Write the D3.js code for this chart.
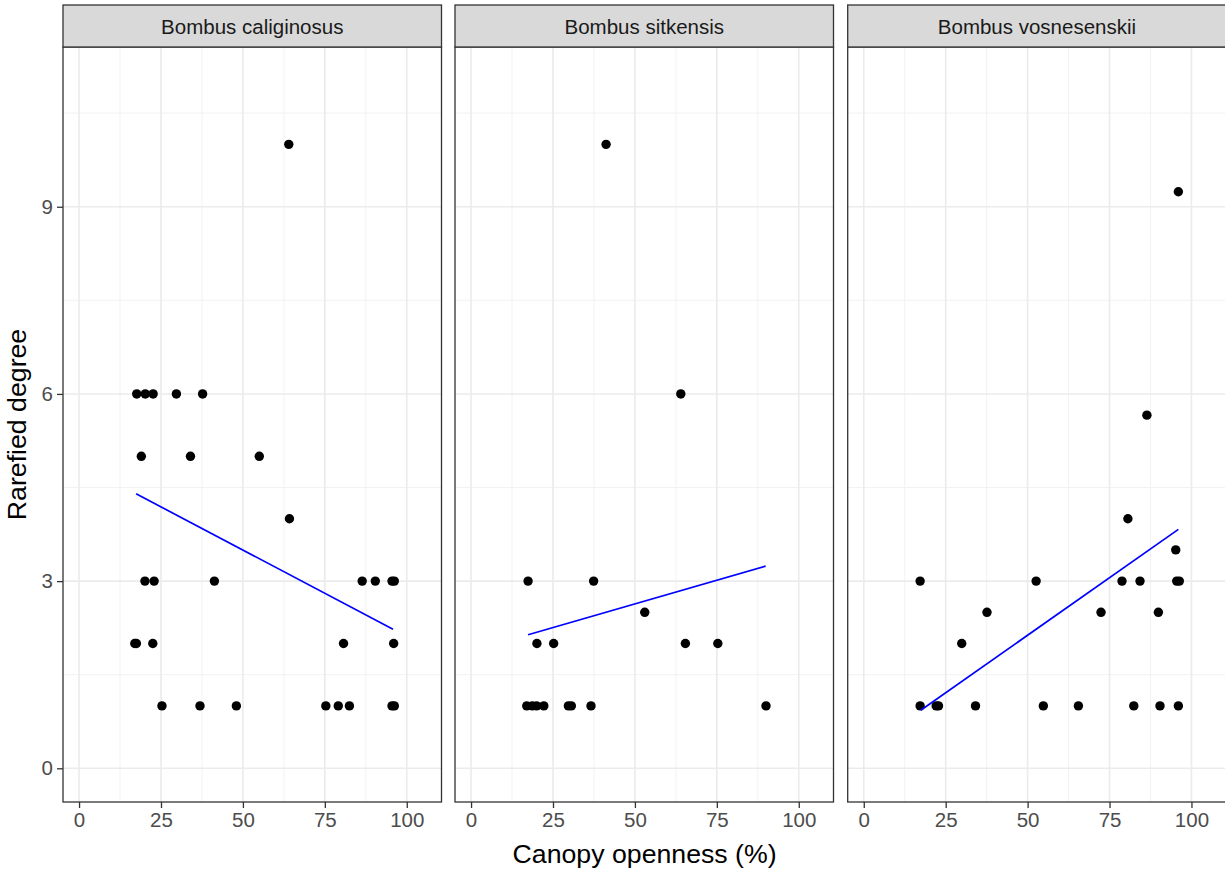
<!DOCTYPE html>
<html>
<head>
<meta charset="utf-8">
<script src="https://cdn.jsdelivr.net/npm/d3@7"></script>
<style>
  body { margin: 0; background: white; }
  text { font-family: "Liberation Sans", Arial, sans-serif; }
</style>
</head>
<body>
<script>
const width = 1225;
const height = 871;

const species = ["Bombus caliginosus", "Bombus sitkensis", "Bombus vosnesenskii"];

// canopy openness (%) and rarefied degree, one pair of arrays per species
const caligX = [64, 17.6, 20.2, 22.6, 29.7, 37.7, 19, 34, 55, 64.2, 20.1, 22.9, 41.3, 86.4, 90.4, 95.5, 96.2,
  17.0, 17.5, 22.5, 80.7, 96, 25.3, 36.9, 48, 75.3, 79.1, 82.5, 95.5, 96.2];
const caligY = [10, 6, 6, 6, 6, 6, 5, 5, 5, 4, 3, 3, 3, 3, 3, 3, 3,
  2, 2, 2, 2, 2, 1, 1, 1, 1, 1, 1, 1, 1];

const sitkX = [41.2, 64.0, 17.4, 37.4, 53.0, 20.1, 25.2, 65.4, 75.3, 17.0, 18.7, 20.0, 22.2, 29.7, 30.6, 36.6, 90.0];
const sitkY = [10, 6, 3, 3, 2.5, 2, 2, 2, 2, 1, 1, 1, 1, 1, 1, 1, 1];

const vosX = [96.0, 86.4, 80.6, 95.2, 17.2, 52.6, 78.8, 84.3, 95.5, 96.3, 37.6, 72.4, 89.9, 29.9,
  17.2, 22.1, 22.8, 34.1, 54.8, 65.5, 82.4, 90.4, 96.0];
const vosY = [9.24, 5.66, 4, 3.5, 3, 3, 3, 3, 3, 3, 2.5, 2.5, 2.5, 2,
  1, 1, 1, 1, 1, 1, 1, 1, 1];

// fitted lines (start and end)
const fitX = [[17.4, 95.8], [17.4, 89.9], [17.4, 96.0]];
const fitY = [[4.40, 2.23], [2.14, 3.24], [0.93, 3.83]];

const xTicks = [0, 25, 50, 75, 100];
const xMinor = [12.5, 37.5, 62.5, 87.5];
const yTicks = [0, 3, 6, 9];
const yMinor = [1.5, 4.5, 7.5, 10.5];

const panelLefts = [63, 455, 847.7];
const panelW = 378.5;
const plotTop = 47;
const plotBottom = 802;
const stripTop = 5;

const allX = [caligX, sitkX, vosX];
const allY = [caligY, sitkY, vosY];

const svg = d3.select("body").append("svg")
  .attr("width", width)
  .attr("height", height);

const y = d3.scaleLinear().domain([-0.54, 11.56]).range([plotBottom, plotTop]);

species.forEach((name, i) => {
  const left = panelLefts[i];
  const x = d3.scaleLinear().domain([-4.9, 110.6]).range([left, left + panelW]);
  const g = svg.append("g");

  // panel background
  g.append("rect")
    .attr("x", left).attr("y", plotTop)
    .attr("width", panelW).attr("height", plotBottom - plotTop)
    .attr("fill", "white");

  // minor grid
  g.selectAll(".vminor").data(xMinor).join("line")
    .attr("x1", d => x(d)).attr("x2", d => x(d))
    .attr("y1", plotTop).attr("y2", plotBottom)
    .attr("stroke", "#F2F2F2").attr("stroke-width", 1);
  g.selectAll(".hminor").data(yMinor).join("line")
    .attr("x1", left).attr("x2", left + panelW)
    .attr("y1", d => y(d)).attr("y2", d => y(d))
    .attr("stroke", "#F2F2F2").attr("stroke-width", 1);

  // major grid
  g.selectAll(".vmajor").data(xTicks).join("line")
    .attr("x1", d => x(d)).attr("x2", d => x(d))
    .attr("y1", plotTop).attr("y2", plotBottom)
    .attr("stroke", "#EBEBEB").attr("stroke-width", 1.6);
  g.selectAll(".hmajor").data(yTicks).join("line")
    .attr("x1", left).attr("x2", left + panelW)
    .attr("y1", d => y(d)).attr("y2", d => y(d))
    .attr("stroke", "#EBEBEB").attr("stroke-width", 1.6);

  // points
  const pts = allX[i].map((v, k) => [v, allY[i][k]]);
  g.selectAll(".pt").data(pts).join("circle")
    .attr("cx", d => x(d[0]))
    .attr("cy", d => y(d[1]))
    .attr("r", 4.7)
    .attr("fill", "black");

  // fitted line
  g.append("line")
    .attr("x1", x(fitX[i][0])).attr("y1", y(fitY[i][0]))
    .attr("x2", x(fitX[i][1])).attr("y2", y(fitY[i][1]))
    .attr("stroke", "#0000FF").attr("stroke-width", 1.7);

  // panel border
  g.append("rect")
    .attr("x", left).attr("y", plotTop)
    .attr("width", panelW).attr("height", plotBottom - plotTop)
    .attr("fill", "none").attr("stroke", "#333333").attr("stroke-width", 1.3);

  // strip
  g.append("rect")
    .attr("x", left).attr("y", stripTop)
    .attr("width", panelW).attr("height", plotTop - stripTop)
    .attr("fill", "#D9D9D9").attr("stroke", "#333333").attr("stroke-width", 1.3);
  g.append("text")
    .attr("x", left + panelW / 2)
    .attr("y", 34)
    .attr("text-anchor", "middle")
    .attr("font-size", "20.5px")
    .attr("fill", "#1A1A1A")
    .text(name);

  // x axis
  const xAxis = g.append("g")
    .attr("transform", `translate(0,${plotBottom})`)
    .call(d3.axisBottom(x).tickValues(xTicks).tickSize(6).tickPadding(4));
  xAxis.select(".domain").remove();
  xAxis.selectAll(".tick line").attr("stroke", "#333333").attr("stroke-width", 1.3);
  xAxis.selectAll(".tick text")
    .attr("fill", "#4D4D4D")
    .attr("font-size", "20.5px")
    .attr("font-family", "Liberation Sans, Arial, sans-serif");

  // y axis only on first panel
  if (i === 0) {
    const yAxis = g.append("g")
      .attr("transform", `translate(${left},0)`)
      .call(d3.axisLeft(y).tickValues(yTicks).tickSize(6).tickPadding(4));
    yAxis.select(".domain").remove();
    yAxis.selectAll(".tick line").attr("stroke", "#333333").attr("stroke-width", 1.3);
    yAxis.selectAll(".tick text")
      .attr("fill", "#4D4D4D")
      .attr("font-size", "20.5px")
      .attr("font-family", "Liberation Sans, Arial, sans-serif");
  }
});

// axis titles
svg.append("text")
  .attr("x", (panelLefts[0] + panelLefts[2] + panelW) / 2)
  .attr("y", 863)
  .attr("text-anchor", "middle")
  .attr("font-size", "26.7px")
  .attr("fill", "black")
  .text("Canopy openness (%)");

svg.append("text")
  .attr("transform", `translate(26,${(plotTop + plotBottom) / 2}) rotate(-90)`)
  .attr("text-anchor", "middle")
  .attr("font-size", "26.7px")
  .attr("fill", "black")
  .text("Rarefied degree");
</script>
</body>
</html>
